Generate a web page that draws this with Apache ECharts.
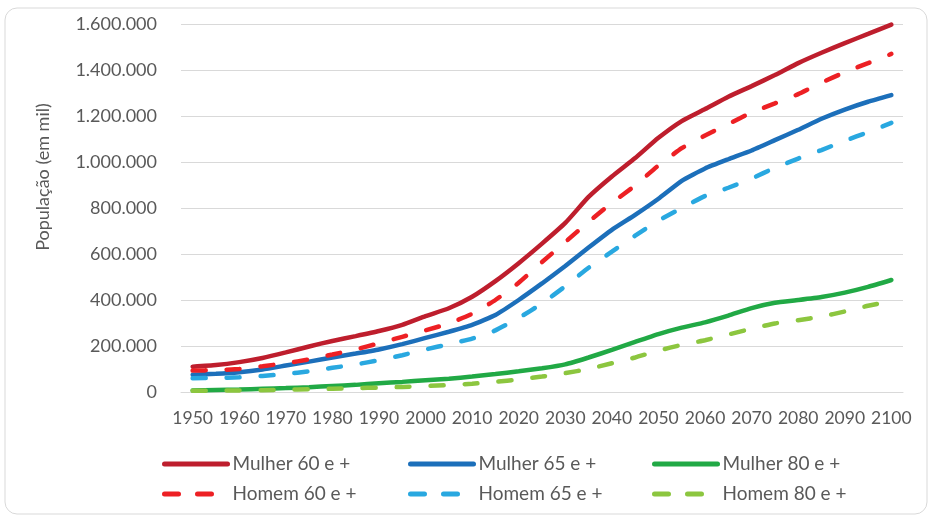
<!DOCTYPE html>
<html>
<head>
<meta charset="utf-8">
<title>População idosa</title>
<script src="https://cdn.jsdelivr.net/npm/echarts@6/dist/echarts.min.js"></script>
<style>
    html, body { margin: 0; padding: 0; background: #fff; }
    #lineGraph { width: 932px; height: 517px; }
</style>
</head>
<body>
<div id="lineGraph"></div>
<script>
    /* ---------- data ---------- */

    var years = ['1950', '1955', '1960', '1965', '1970', '1975', '1980', '1985', '1990', '1995',
        '2000', '2005', '2010', '2015', '2020', '2025', '2030', '2035', '2040', '2045',
        '2050', '2055', '2060', '2065', '2070', '2075', '2080', '2085', '2090', '2095', '2100'];

    var mulher60 = [110000, 117000, 130000, 148000, 172000, 198000, 222000, 243000, 265000, 292000,
        330000, 364000, 414000, 482000, 560000, 645000, 735000, 848000, 937000, 1017000,
        1105000, 1178000, 1230000, 1284000, 1330000, 1378000, 1430000, 1475000, 1517000, 1557000, 1597000];

    var homem60 = [93000, 95000, 100000, 112000, 125000, 142000, 163000, 185000, 212000, 240000,
        268000, 298000, 340000, 400000, 475000, 565000, 652000, 740000, 822000, 898000,
        985000, 1060000, 1115000, 1165000, 1215000, 1255000, 1295000, 1345000, 1390000, 1430000, 1470000];

    var mulher65 = [75000, 79000, 86000, 98000, 115000, 132000, 150000, 167000, 185000, 208000,
        235000, 262000, 292000, 335000, 400000, 472000, 548000, 628000, 705000, 770000,
        840000, 918000, 972000, 1012000, 1050000, 1095000, 1140000, 1188000, 1228000, 1262000, 1291000];

    var homem65 = [60000, 61000, 64000, 70000, 78000, 90000, 105000, 120000, 138000, 160000,
        185000, 208000, 232000, 268000, 322000, 385000, 460000, 540000, 610000, 680000,
        745000, 800000, 852000, 888000, 928000, 975000, 1015000, 1052000, 1092000, 1130000, 1170000];

    var mulher80 = [7000, 9000, 11000, 14000, 17000, 21000, 26000, 31000, 38000, 44000,
        51000, 58000, 67000, 78000, 90000, 103000, 120000, 150000, 183000, 218000,
        252000, 280000, 303000, 332000, 365000, 388000, 400000, 413000, 432000, 457000, 487000];

    var homem80 = [5000, 6000, 7000, 8000, 10000, 12000, 14000, 17000, 19000, 22000,
        26000, 30000, 36000, 44000, 55000, 67000, 82000, 100000, 125000, 150000,
        180000, 205000, 225000, 250000, 275000, 298000, 312000, 328000, 350000, 375000, 395000];

    var seriesNames = ['Mulher 60 e +', 'Mulher 65 e +', 'Mulher 80 e +',
        'Homem 60 e +', 'Homem 65 e +', 'Homem 80 e +'];

    /* ---------- chart ---------- */

    var font = 'Lato, "Open Sans", sans-serif';
    var textGrey = '#595959';
    var dash = [13, 21];

    function fmt(v) {
        // 1600000 -> 1.600.000
        return String(v).replace(/\B(?=(\d{3})+(?!\d))/g, '.');
    }

    function makeLine(name, data, color, dashed) {
        return {
            name: name,
            type: 'line',
            data: data,
            symbol: 'none',
            smooth: 0.15,
            z: dashed ? 3 : 2,
            lineStyle: {
                color: color,
                width: 4.5,
                type: dashed ? dash : 'solid',
                cap: 'round'
            },
            itemStyle: { color: color }
        };
    }

    // one legend per item so the columns line up like the original
    function makeLegend(name, left, top, dashed) {
        return {
            data: [name],
            left: left,
            top: top,
            padding: 0,
            itemWidth: 63,
            itemHeight: 6,
            selectedMode: false,
            itemStyle: { opacity: 0 },   // no dot on the legend line
            textStyle: { color: textGrey, fontSize: 19, fontFamily: font, lineHeight: 22 },
            lineStyle: { width: 5, type: dashed ? [14, 19] : 'solid', cap: 'round' }
        };
    }

    var lineGraph = echarts.init(document.getElementById('lineGraph'));

    var option = {
        animation: false,
        backgroundColor: '#fff',
        graphic: [
            {
                type: 'rect',
                shape: { x: 5, y: 8, width: 922, height: 506, r: 12 },
                style: { fill: 'none', stroke: '#d9d9d9', lineWidth: 1 },
                silent: true
            },
            {
                type: 'text',
                x: 43,
                y: 177,
                rotation: Math.PI / 2,
                style: {
                    text: 'População (em mil)',
                    fill: textGrey,
                    fontSize: 18,
                    fontFamily: font,
                    align: 'center',
                    verticalAlign: 'middle'
                }
            }
        ],
        grid: {
            left: 181,
            right: 29,
            top: 24,
            bottom: 125
        },
        legend: [
            makeLegend(seriesNames[0], 162, 453, false),
            makeLegend(seriesNames[1], 408, 453, false),
            makeLegend(seriesNames[2], 652, 453, false),
            makeLegend(seriesNames[3], 162, 483, true),
            makeLegend(seriesNames[4], 408, 483, true),
            makeLegend(seriesNames[5], 652, 483, true)
        ],
        xAxis: {
            type: 'category',
            data: years,
            boundaryGap: true,
            axisLine: { lineStyle: { color: '#d9d9d9' } },
            axisTick: { show: false },
            axisLabel: {
                interval: 1,
                color: textGrey,
                fontSize: 17.5,
                fontFamily: font,
                margin: 17
            }
        },
        yAxis: {
            type: 'value',
            min: 0,
            max: 1600000,
            interval: 200000,
            axisLine: { show: false },
            axisTick: { show: false },
            splitLine: { lineStyle: { color: '#d9d9d9', width: 1 } },
            axisLabel: {
                color: textGrey,
                fontSize: 18,
                fontFamily: font,
                margin: 24,
                formatter: fmt
            }
        },
        series: [
            makeLine(seriesNames[0], mulher60, '#BE1E2D', false),
            makeLine(seriesNames[1], mulher65, '#1C6FBA', false),
            makeLine(seriesNames[2], mulher80, '#21A945', false),
            makeLine(seriesNames[3], homem60, '#ED2024', true),
            makeLine(seriesNames[4], homem65, '#29A8E0', true),
            makeLine(seriesNames[5], homem80, '#8CC63F', true)
        ]
    };
    lineGraph.setOption(option);
</script>
</body>
</html>
